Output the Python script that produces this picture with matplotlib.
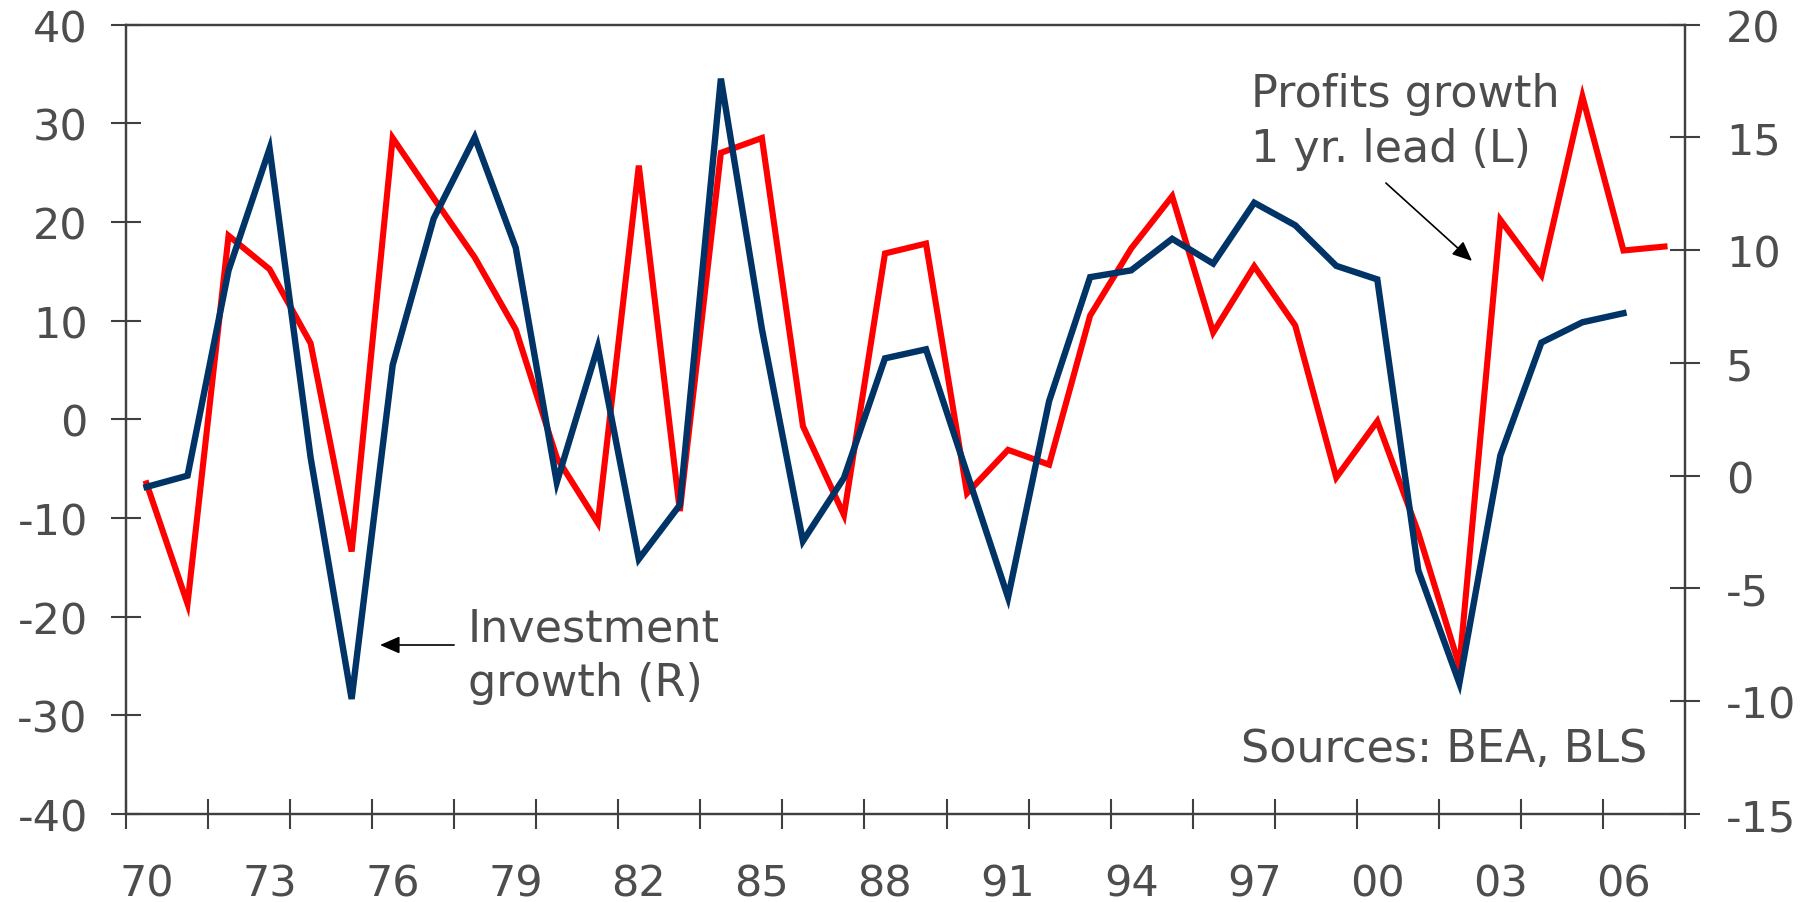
#Imports
import matplotlib
matplotlib.use("Agg")
import matplotlib.pyplot as plt
import numpy as np

#Data (annual, % y/y)
years_profits = list(range(1970, 2008))
profits_lead = [-6.5, -18.7, 18.6, 15.2, 7.7, -13.4, 28.5, 22.4, 16.4, 9.1,
                -3.9, -10.5, 25.7, -9.3, 27.0, 28.5, -0.7, -9.7, 16.8, 17.8,
                -7.5, -3.1, -4.6, 10.5, 17.3, 22.6, 8.8, 15.5, 9.5, -5.9,
                -0.2, -11.5, -25.0, 20.2, 14.6, 32.7, 17.1, 17.5]

years_invest = list(range(1970, 2007))
invest_growth = [-0.5, 0.0, 9.1, 14.5, 0.8, -9.9, 4.9, 11.4, 15.0, 10.1,
                 -0.3, 5.7, -3.7, -1.3, 17.6, 6.5, -2.9, -0.1, 5.2, 5.6,
                 0.1, -5.4, 3.3, 8.8, 9.1, 10.5, 9.4, 12.1, 11.1, 9.3,
                 8.7, -4.2, -9.2, 0.9, 5.9, 6.8, 7.2]

label_years = list(range(1970, 2007, 3))
left_ticks = list(range(-40, 41, 10))
right_ticks = list(range(-15, 21, 5))

#Styling
grey = "#4d4d4d"
spine_grey = "#404040"
plt.rcParams["font.family"] = ["DejaVu Sans"]
plt.rcParams["axes.unicode_minus"] = False

fig = plt.figure(figsize=(18.2, 9.03), dpi=100)
ax = fig.add_axes([0.06923, 0.09745, 0.85659, 0.87431])
ax2 = ax.twinx()

#lines: profits on left axis, investment on right
ax.plot(years_profits, profits_lead, color="#ff0000", lw=4.4, solid_joinstyle="miter")
ax2.plot(years_invest, invest_growth, color="#003366", lw=4.6, solid_joinstyle="miter")

ax.set_xlim(1969.5, 2007.5)
ax.set_ylim(-40, 40)
ax2.set_ylim(-15, 20)

#x axis: labels every 3 yrs, tick marks every 2 yrs on category edges
ax.set_xticks(label_years)
ax.set_xticklabels(["%02d" % (y % 100) for y in label_years])
ax.set_xticks(np.arange(1969.5, 2008, 2), minor=True)
ax.tick_params(axis="x", which="major", length=0, pad=35, labelsize=31, labelcolor=grey)
ax.tick_params(axis="x", which="minor", direction="inout", length=21, width=1.5, color=spine_grey)

ax.set_yticks(left_ticks)
ax.tick_params(axis="y", direction="inout", length=21, width=1.5, color=spine_grey,
               pad=17, labelsize=31, labelcolor=grey)
ax2.set_yticks(right_ticks)
ax2.tick_params(axis="y", direction="inout", length=21, width=1.5, color=spine_grey,
                pad=19, labelsize=31, labelcolor=grey)

for a in (ax, ax2):
    for s in a.spines.values():
        s.set_color(spine_grey)
        s.set_linewidth(1.6)

#annotations
fig.text(0.2571, 0.2901, "Investment", fontsize=32, color=grey, va="baseline")
fig.text(0.2571, 0.2292, "growth (R)", fontsize=32, color=grey, va="baseline")
fig.text(0.6874, 0.8810, "Profits growth", fontsize=32, color=grey, va="baseline")
fig.text(0.6874, 0.8206, "1 yr. lead (L)", fontsize=32, color=grey, va="baseline")
fig.text(0.9049, 0.1561, "Sources: BEA, BLS", fontsize=32, color=grey, va="baseline", ha="right")

arrow = dict(arrowstyle="-|>,head_length=0.8,head_width=0.35", color="black",
             lw=1.2, shrinkA=0, shrinkB=0, mutation_scale=15)
ax.annotate("", xy=(0.2088, 0.2846), xytext=(0.2495, 0.2846),
            xycoords="figure fraction", textcoords="figure fraction", arrowprops=arrow)
ax.annotate("", xy=(0.8088, 0.7099), xytext=(0.7615, 0.7962),
            xycoords="figure fraction", textcoords="figure fraction", arrowprops=arrow)

fig.savefig("out.png", dpi=100)
